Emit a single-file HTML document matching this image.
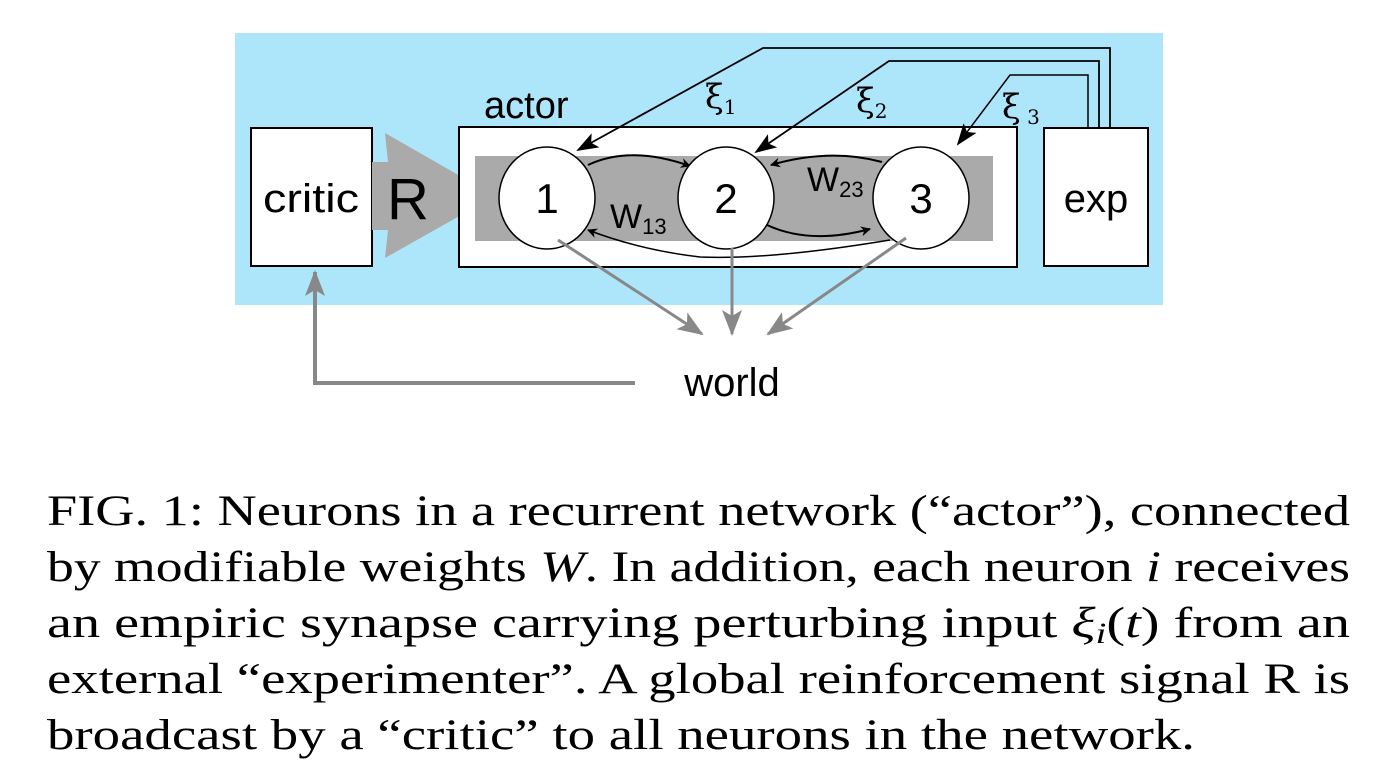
<!DOCTYPE html>
<html><head><meta charset="utf-8"><style>
html,body{margin:0;padding:0;background:#fff;}
svg{display:block;}
</style></head><body>
<svg width="1378" height="778" viewBox="0 0 1378 778" xmlns="http://www.w3.org/2000/svg">
<defs>
<marker id="ab" markerWidth="10" markerHeight="10" refX="9" refY="5" orient="auto" markerUnits="userSpaceOnUse" viewBox="0 0 10 10">
<path d="M0,0 L10,5 L0,10 L3,5 Z" fill="#000"/></marker>
<marker id="abL" markerWidth="22" markerHeight="16" refX="20" refY="8" orient="auto" markerUnits="userSpaceOnUse" viewBox="0 0 22 16">
<path d="M0,0 L22,8 L0,16 L5,8 Z" fill="#000"/></marker>
<marker id="ag" markerWidth="26" markerHeight="20" refX="24" refY="10" orient="auto" markerUnits="userSpaceOnUse" viewBox="0 0 26 20">
<path d="M0,0 L26,10 L0,20 L6,10 Z" fill="#888"/></marker>
</defs>
<rect x="235" y="33" width="928" height="272" fill="#ade6fb"/>
<rect x="251" y="128" width="121" height="138" fill="#fff" stroke="#000" stroke-width="2"/>
<text x="311" y="212" font-family="Liberation Sans, sans-serif" font-size="40" text-anchor="middle" textLength="96" lengthAdjust="spacingAndGlyphs">critic</text>
<polygon points="372,162 388,162 385,133 495,196 385,258 388,230 372,230" fill="#aaa"/>
<text x="408" y="219" font-family="Liberation Sans, sans-serif" font-size="58" text-anchor="middle">R</text>
<text x="484" y="118" font-family="Liberation Sans, sans-serif" font-size="38">actor</text>
<rect x="459" y="127" width="558" height="140" fill="#fff" stroke="#000" stroke-width="2"/>
<rect x="475" y="156" width="518" height="85" fill="#aaa"/>
<path d="M588,165 Q630,145 690,166" fill="none" stroke="#000" stroke-width="2" marker-end="url(#ab)"/>
<path d="M882,162 Q830,148 771,165" fill="none" stroke="#000" stroke-width="2" marker-end="url(#ab)"/>
<path d="M767,225 Q810,245 870,229" fill="none" stroke="#000" stroke-width="2" marker-end="url(#ab)"/>
<path d="M890,240 Q770,260 700,257 Q640,250 588,230" fill="none" stroke="#000" stroke-width="1.5" marker-end="url(#ab)"/>
<ellipse cx="547" cy="198" rx="48" ry="51" fill="#fff" stroke="#000" stroke-width="1.5"/>
<ellipse cx="726" cy="198" rx="48" ry="51" fill="#fff" stroke="#000" stroke-width="1.5"/>
<ellipse cx="921" cy="198" rx="48" ry="51" fill="#fff" stroke="#000" stroke-width="1.5"/>
<text x="547" y="213" font-family="Liberation Sans, sans-serif" font-size="42" text-anchor="middle">1</text>
<text x="726" y="213" font-family="Liberation Sans, sans-serif" font-size="42" text-anchor="middle">2</text>
<text x="921" y="213" font-family="Liberation Sans, sans-serif" font-size="42" text-anchor="middle">3</text>
<text x="610" y="228" font-family="Liberation Sans, sans-serif" font-size="34">W<tspan font-size="22" dy="6">13</tspan></text>
<text x="807" y="191" font-family="Liberation Sans, sans-serif" font-size="34">W<tspan font-size="22" dy="6">23</tspan></text>
<rect x="1044" y="128" width="104" height="138" fill="#fff" stroke="#000" stroke-width="2"/>
<text x="1096" y="212" font-family="Liberation Sans, sans-serif" font-size="40" text-anchor="middle">exp</text>
<polyline points="1110,128 1110,48 763,48 578,150" fill="none" stroke="#000" stroke-width="1.8" marker-end="url(#abL)"/>
<polyline points="1099,128 1099,61 889,61 756,152" fill="none" stroke="#000" stroke-width="1.8" marker-end="url(#abL)"/>
<polyline points="1088,128 1088,75 1010,75 958,144" fill="none" stroke="#000" stroke-width="1.5" marker-end="url(#abL)"/>
<text x="705" y="108" font-family="DejaVu Serif, serif" font-size="34">ξ<tspan font-size="20" dy="6">1</tspan></text>
<text x="856" y="112" font-family="DejaVu Serif, serif" font-size="34">ξ<tspan font-size="20" dy="6">2</tspan></text>
<text x="1002" y="118" font-family="DejaVu Serif, serif" font-size="34">ξ<tspan font-size="20" dy="6"> 3</tspan></text>
<line x1="558" y1="240" x2="702" y2="334" stroke="#888" stroke-width="3" marker-end="url(#ag)"/>
<line x1="732" y1="248" x2="732" y2="334" stroke="#888" stroke-width="3" marker-end="url(#ag)"/>
<line x1="906" y1="238" x2="768" y2="334" stroke="#888" stroke-width="3" marker-end="url(#ag)"/>
<text x="732" y="396" font-family="Liberation Sans, sans-serif" font-size="40" text-anchor="middle">world</text>
<polyline points="635,383 315,383 315,272" fill="none" stroke="#888" stroke-width="4" marker-end="url(#ag)"/>
<g font-family="Liberation Serif, serif" font-size="43" fill="#000">
<text x="47" y="525" textLength="1303" lengthAdjust="spacingAndGlyphs">FIG. 1: Neurons in a recurrent network (“actor”), connected</text>
<text x="47" y="581" textLength="1303" lengthAdjust="spacingAndGlyphs">by modifiable weights <tspan font-style="italic">W</tspan>. In addition, each neuron <tspan font-style="italic">i</tspan> receives</text>
<text x="47" y="637" textLength="1303" lengthAdjust="spacingAndGlyphs">an empiric synapse carrying perturbing input <tspan font-style="italic">ξ</tspan><tspan font-style="italic" font-size="30" dy="6">i</tspan><tspan dy="-6">(</tspan><tspan font-style="italic">t</tspan>) from an</text>
<text x="47" y="693" textLength="1303" lengthAdjust="spacingAndGlyphs">external “experimenter”.  A global reinforcement signal R is</text>
<text x="47" y="749" textLength="1148" lengthAdjust="spacingAndGlyphs">broadcast by a “critic” to all neurons in the network.</text>
</g>
</svg>
</body></html>
